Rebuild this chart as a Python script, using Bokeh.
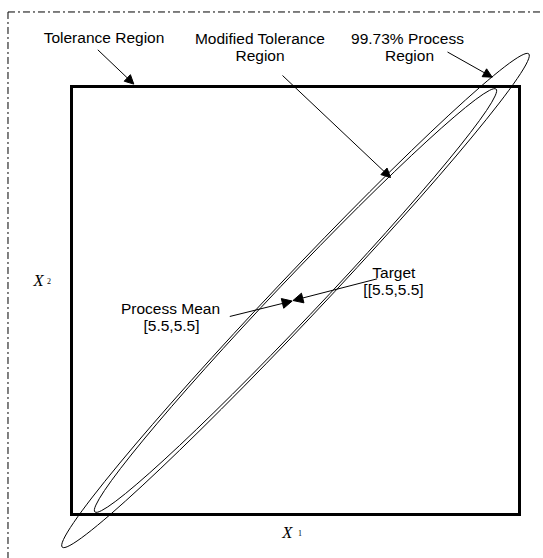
import math
from bokeh.plotting import figure
from bokeh.models import Range1d, Label, Arrow, NormalHead
from bokeh.embed import file_html
from bokeh.resources import INLINE

# ---- data (diagram coordinates) ----
tol_x = [1.0, 10.0]          # tolerance limits of X1
tol_y = [1.0, 10.0]          # tolerance limits of X2
target = [5.5, 5.5]
process_mean = [5.5, 5.5]
region_names = ["99.73% Process Region", "Modified Tolerance Region"]
region_cx = [5.5, 5.5]
region_cy = [5.5, 5.5]
region_len = [13.64, 11.71]
region_wid = [0.946, 0.854]
region_angle_deg = [46.6, 46.5]

W, H = 543, 558
X0, X1 = -0.42634, 10.48214
Y0, Y1 = 0.07477, 11.80841
p = figure(width=W, height=H,
           x_range=Range1d(X0, X1), y_range=Range1d(Y0, Y1),
           x_axis_type=None, y_axis_type=None,
           output_backend="svg", toolbar_location=None, min_border=0)
p.outline_line_color = None
p.background_fill_color = "white"
p.border_fill_color = "white"
p.grid.visible = False

# dash-dot page border (top and left)
BX, BY = -0.2757, 11.567
p.segment(x0=[BX, BX], y0=[BY, BY], x1=[X1, BX], y1=[BY, Y0],
          line_color="black", line_width=1, line_dash="7 3 2 3")

# tolerance region
p.quad(left=[tol_x[0]], right=[tol_x[1]], bottom=[tol_y[0]], top=[tol_y[1]],
       fill_color=None, line_color="black", line_width=3, line_join="miter")

# process regions
p.ellipse(x=region_cx, y=region_cy, width=region_len, height=region_wid,
          angle=[math.radians(a) for a in region_angle_deg],
          fill_color=None, line_color="black", line_width=1)

SANS = "Liberation Sans"
FS = "15.5px"

def lab(x, y, t, font=SANS, size=FS, style="normal", align="center"):
    p.add_layout(Label(x=x, y=y, text=t, text_font=font, text_font_size=size,
                       text_font_style=style, text_align=align,
                       text_baseline="alphabetic", text_color="black"))

lab(1.653, 11.020, "Tolerance Region")
lab(4.787, 11.009, "Modified Tolerance")
lab(4.787, 10.652, "Region")
lab(7.750, 11.017, "99.73% Process")
lab(7.790, 10.652, "Region")
lab(2.989, 5.332, "Process Mean")
lab(3.009, 4.980, "[%g,%g]" % (process_mean[0], process_mean[1]))
lab(7.475, 6.082, "Target")
lab(7.469, 5.721, "[[%g,%g]" % (target[0], target[1]))

# axis names
lab(0.2366, 5.920, "X", font="Liberation Serif", size="16.5px", style="italic", align="left")
lab(0.5078, 5.920, "2", font="Liberation Serif", size="8px", align="left")
lab(5.233, 0.615, "X", font="Liberation Serif", size="16.5px", style="italic", align="left")
lab(5.550, 0.615, "1", font="Liberation Serif", size="8px", align="left")

def arrow(x0, y0, x1, y1, size=9):
    p.add_layout(Arrow(end=NormalHead(size=size, fill_color="black", line_color="black", line_width=1),
                       x_start=x0, y_start=y0, x_end=x1, y_end=y1,
                       line_color="black", line_width=1))

arrow(1.528, 10.772, 2.252, 10.050)
arrow(5.239, 10.231, 7.409, 8.086)
arrow(8.554, 10.725, 9.452, 10.196)
arrow(4.180, 5.164, 5.434, 5.489, size=10)
arrow(7.141, 5.956, 5.450, 5.500, size=10)

open("out.html", "w").write(file_html(p, INLINE))
